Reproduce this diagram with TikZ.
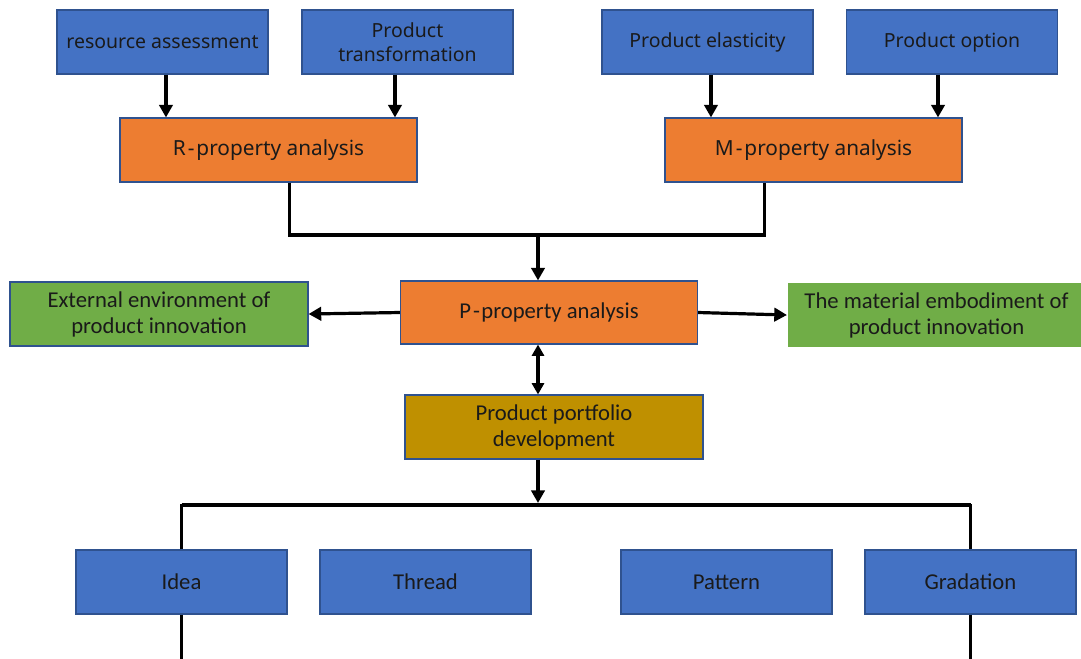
\documentclass[tikz,border=0pt]{standalone}
\usepackage{fontspec}
\setmainfont{Noto Sans}
\newfontfamily\lowfont{Carlito}
\usetikzlibrary{arrows.meta}
\definecolor{boxblue}{HTML}{4472C4}
\definecolor{boxorange}{HTML}{ED7D31}
\definecolor{boxgreen}{HTML}{70AD47}
\definecolor{boxgold}{HTML}{BF9000}
\definecolor{edgeblue}{HTML}{2F528F}
\definecolor{inktext}{HTML}{1A1A1A}
\tikzset{
  card/.style={draw=edgeblue, line width=0.8pt, minimum width=158.25pt, minimum height=48pt,
    inner sep=2pt, align=center, text=inktext},
  upfont/.style={font=\fontsize{14.6pt}{18pt}\selectfont},
  midfont/.style={font=\fontsize{15.6pt}{18pt}\selectfont},
  lofont/.style={font=\lowfont\fontsize{17pt}{19.5pt}\selectfont},
  bluecard/.style={card, fill=boxblue},
  orangecard/.style={card, fill=boxorange, minimum width=222.75pt},
  greencard/.style={card, fill=boxgreen, minimum width=223.5pt, lofont},
  goldcard/.style={card, fill=boxgold, minimum width=223.5pt, lofont},
  arr/.style={line width=2.4pt, -{Triangle[width=10pt,length=9.5pt]}},
  darr/.style={line width=2.4pt, {Triangle[width=9pt,length=8.5pt]}-{Triangle[width=9pt,length=8.5pt]}},
  link/.style={line width=2.4pt},
  thinlink/.style={line width=1.7pt},
}
\begin{document}
\begin{tikzpicture}[x=0.75pt,y=-0.75pt]
\useasboundingbox (0,0) rectangle (1081,658);

% top inputs
\node[bluecard, upfont] (ra) at (162.5,42) {resource assessment};
\node[bluecard, upfont] (pt) at (407.5,42) {Product\\transformation};
\node[bluecard, upfont] (pe) at (707.5,42) {Product elasticity};
\node[bluecard, upfont] (po) at (952,42) {Product option};

% analyses
\node[orangecard, midfont] (R) at (268.5,150) {R\kern1.5pt-\kern1.5pt property analysis};
\node[orangecard, midfont] (M) at (813.5,150) {M\kern1.5pt-\kern1.5pt property analysis};
\node[orangecard, lofont, minimum height=47.25pt] (P) at (549,312.5) {P\kern1.5pt-\kern1pt property analysis};

% side outcomes
\node[greencard] (ext) at (159,314) {External environment of\\product innovation};
\node[greencard, draw=none] (mat) at (936.5,315) {The material embodiment of\\product innovation};

% portfolio
\node[goldcard] (pp) at (554,427) {Product portfolio\\development};

% portfolio elements
\node[bluecard, lofont] (idea) at (181.5,582) {Idea};
\node[bluecard, lofont] (thr) at (425.5,582) {Thread};
\node[bluecard, lofont] (pat) at (726.5,582) {Pattern};
\node[bluecard, lofont] (gra) at (970.5,582) {Gradation};

% junctions
\coordinate (j) at (538,235);
\coordinate (k) at (538,505);
\coordinate (ideatail) at (181.5,660);
\coordinate (gratail) at (970.5,660);

% inputs into R and M
\draw[arr] ([xshift=2.6pt]ra.south) -- ([xshift=2.6pt]ra.south |- R.north);
\draw[arr] ([xshift=-9.4pt]pt.south) -- ([xshift=-9.4pt]pt.south |- R.north);
\draw[arr] ([xshift=2.6pt]pe.south) -- ([xshift=2.6pt]pe.south |- M.north);
\draw[arr] ([xshift=-10.5pt]po.south) -- ([xshift=-10.5pt]po.south |- M.north);

% R and M merge into P
\draw[link] ([xshift=16pt]R.south) |- (j) -| ([xshift=-37pt]M.south);
\draw[arr] (j) -- (j |- P.north);

% P to side outcomes
\draw[arr] (P.west) -- (ext.east);
\draw[arr] (P.east) -- (mat.west);

% P and portfolio
\draw[darr] (j |- P.south) -- (j |- pp.north);
\draw[arr] (j |- pp.south) -- ([yshift=1.5pt]k);

% distribution bus
\draw[thinlink] (idea.north) |- (k) -| (gra.north);
\draw[line width=3pt] (idea.north |- k) -- (gra.north |- k);
\draw[thinlink] (idea.south) -- (ideatail);
\draw[thinlink] (gra.south) -- (gratail);
\end{tikzpicture}
\end{document}
